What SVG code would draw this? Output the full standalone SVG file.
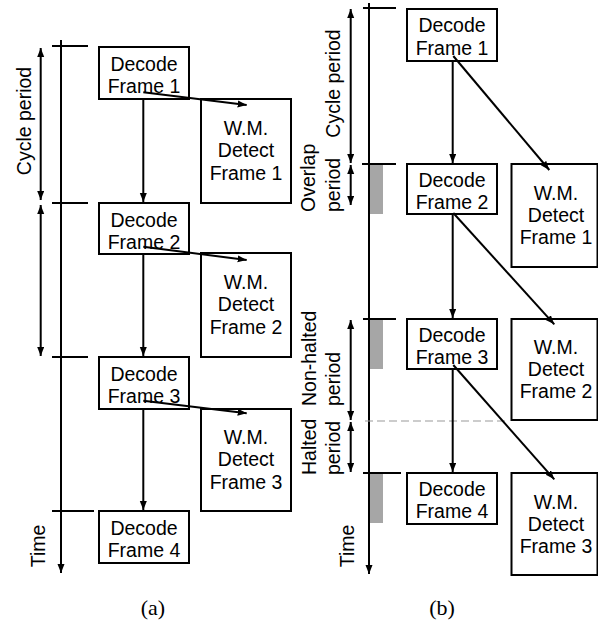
<svg xmlns="http://www.w3.org/2000/svg" width="598" height="625" viewBox="0 0 598 625">
<style>
.box{fill:#fff;stroke:#000;stroke-width:2}
.ln{stroke:#000;stroke-width:2;fill:none}
.t{font-family:"Liberation Sans",Arial,sans-serif;font-size:19.5px;fill:#000}
.c{text-anchor:middle}
.cap{font-family:"Liberation Serif","Times New Roman",serif;font-size:22px;fill:#000;text-anchor:middle}
.gray{fill:#a6a6a6}
</style>
<defs>
<marker id="ah" markerUnits="userSpaceOnUse" markerWidth="10" markerHeight="8" refX="9" refY="3.5" orient="auto-start-reverse" viewBox="0 0 10 8">
<path d="M0,0 L9,3.5 L0,7 z" fill="#000"/>
</marker>
</defs>
<rect width="598" height="625" fill="#fff"/>

<!-- (a) -->
<g id="a-axis">
<line class="ln" x1="61" y1="40" x2="61" y2="573" marker-end="url(#ah)"/>
<line class="ln" x1="52" y1="46" x2="88" y2="46"/>
<line class="ln" x1="52" y1="203" x2="88" y2="203"/>
<line class="ln" x1="52" y1="357" x2="88" y2="357"/>
<line class="ln" x1="52" y1="511" x2="94" y2="511"/>
<text class="t c" transform="translate(45,546) rotate(-90)">Time</text>
</g>
<g id="a-cycle">
<line class="ln" x1="40.7" y1="48" x2="40.7" y2="200" marker-start="url(#ah)" marker-end="url(#ah)"/>
<line class="ln" x1="40.7" y1="205" x2="40.7" y2="356" marker-start="url(#ah)" marker-end="url(#ah)"/>
<text class="t c" transform="translate(30.5,121) rotate(-90)">Cycle period</text>
</g>

<g id="a-dec1"><rect class="box" x="99" y="47" width="90" height="52"/><text class="t c" x="144" y="71">Decode</text><text class="t c" x="144" y="93">Frame 1</text></g>
<g id="a-dec2"><rect class="box" x="99" y="203" width="90" height="51"/><text class="t c" x="144" y="227">Decode</text><text class="t c" x="144" y="249">Frame 2</text></g>
<g id="a-dec3"><rect class="box" x="99" y="357" width="90" height="52"/><text class="t c" x="144" y="381">Decode</text><text class="t c" x="144" y="403">Frame 3</text></g>
<g id="a-dec4"><rect class="box" x="99" y="511" width="90" height="52"/><text class="t c" x="144" y="535">Decode</text><text class="t c" x="144" y="557">Frame 4</text></g>
<g id="a-wm1"><rect class="box" x="201" y="99" width="90" height="104"/><text class="t c" x="246" y="135">W.M.</text><text class="t c" x="246" y="157">Detect</text><text class="t c" x="246" y="180">Frame 1</text></g>
<g id="a-wm2"><rect class="box" x="201" y="253" width="90" height="104"/><text class="t c" x="246" y="289">W.M.</text><text class="t c" x="246" y="311">Detect</text><text class="t c" x="246" y="334">Frame 2</text></g>
<g id="a-wm3"><rect class="box" x="201" y="409" width="90" height="102"/><text class="t c" x="246" y="444">W.M.</text><text class="t c" x="246" y="466">Detect</text><text class="t c" x="246" y="489">Frame 3</text></g>

<!-- (b) -->
<g id="b-axis">
<rect class="gray" x="370" y="164" width="13" height="50"/>
<rect class="gray" x="370" y="319" width="13" height="50"/>
<rect class="gray" x="370" y="473" width="13" height="50"/>
<line class="ln" x1="369" y1="3" x2="369" y2="574" marker-end="url(#ah)"/>
<line class="ln" x1="363" y1="8" x2="396" y2="8"/>
<line class="ln" x1="362" y1="164" x2="396" y2="164"/>
<line class="ln" x1="363" y1="319" x2="396" y2="319"/>
<line class="ln" x1="363" y1="473" x2="401" y2="473"/>
<line x1="365" y1="421" x2="508" y2="421" stroke="#999" stroke-width="1" stroke-dasharray="8,4"/>
<text class="t c" transform="translate(354,546) rotate(-90)">Time</text>
</g>
<g id="b-periods">
<line class="ln" x1="350.7" y1="9" x2="350.7" y2="163" marker-start="url(#ah)" marker-end="url(#ah)"/>
<line class="ln" x1="350.7" y1="165" x2="350.7" y2="205" marker-start="url(#ah)" marker-end="url(#ah)"/>
<line class="ln" x1="350.7" y1="320" x2="350.7" y2="420" marker-start="url(#ah)" marker-end="url(#ah)"/>
<line class="ln" x1="350.7" y1="422" x2="350.7" y2="472" marker-start="url(#ah)" marker-end="url(#ah)"/>
<text class="t c" transform="translate(340,83.5) rotate(-90)">Cycle period</text>
<text class="t" transform="translate(315,212) rotate(-90)">Overlap</text>
<text class="t" transform="translate(340,212) rotate(-90)">period</text>
<text class="t" transform="translate(316,406) rotate(-90)">Non-halted</text>
<text class="t" transform="translate(340,406) rotate(-90)">period</text>
<text class="t" transform="translate(316,475) rotate(-90)">Halted</text>
<text class="t" transform="translate(340,475) rotate(-90)">period</text>
</g>

<g id="b-dec1"><rect class="box" x="407" y="9" width="90" height="52"/><text class="t c" x="452" y="32">Decode</text><text class="t c" x="452" y="55">Frame 1</text></g>
<g id="b-dec2"><rect class="box" x="407" y="164" width="90" height="50"/><text class="t c" x="452" y="187">Decode</text><text class="t c" x="452" y="209">Frame 2</text></g>
<g id="b-dec3"><rect class="box" x="407" y="319" width="90" height="50"/><text class="t c" x="452" y="342">Decode</text><text class="t c" x="452" y="364">Frame 3</text></g>
<g id="b-dec4"><rect class="box" x="407" y="473" width="90" height="51"/><text class="t c" x="452" y="496">Decode</text><text class="t c" x="452" y="518">Frame 4</text></g>
<g id="b-wm1"><rect class="box" x="511.5" y="164" width="86" height="103"/><text class="t c" x="556" y="200">W.M.</text><text class="t c" x="556" y="222">Detect</text><text class="t c" x="556" y="244">Frame 1</text></g>
<g id="b-wm2"><rect class="box" x="511.5" y="319" width="86" height="101"/><text class="t c" x="556" y="354">W.M.</text><text class="t c" x="556" y="376">Detect</text><text class="t c" x="556" y="398">Frame 2</text></g>
<g id="b-wm3"><rect class="box" x="511.5" y="473" width="86" height="102"/><text class="t c" x="556" y="509">W.M.</text><text class="t c" x="556" y="531">Detect</text><text class="t c" x="556" y="553">Frame 3</text></g>

<g id="connectors">
<line class="ln" x1="143.3" y1="99" x2="143.3" y2="202" marker-end="url(#ah)"/>
<line class="ln" x1="143.3" y1="254" x2="143.3" y2="356" marker-end="url(#ah)"/>
<line class="ln" x1="143.3" y1="409" x2="143.3" y2="510" marker-end="url(#ah)"/>
<line class="ln" x1="143.3" y1="92.3" x2="246.7" y2="105" marker-end="url(#ah)"/>
<line class="ln" x1="143.3" y1="246.7" x2="246.7" y2="260" marker-end="url(#ah)"/>
<line class="ln" x1="143.3" y1="400.7" x2="246.7" y2="413.3" marker-end="url(#ah)"/>
<line class="ln" x1="452.7" y1="61" x2="452.7" y2="163" marker-end="url(#ah)"/>
<line class="ln" x1="452.7" y1="214" x2="452.7" y2="318" marker-end="url(#ah)"/>
<line class="ln" x1="452.7" y1="369" x2="452.7" y2="472" marker-end="url(#ah)"/>
<line class="ln" x1="453.3" y1="56" x2="549.3" y2="170" marker-end="url(#ah)"/>
<line class="ln" x1="453.3" y1="213" x2="554.3" y2="324.3" marker-end="url(#ah)"/>
<line class="ln" x1="453.3" y1="365" x2="554.3" y2="479.3" marker-end="url(#ah)"/>
</g>

<text class="cap" x="153" y="615">(a)</text>
<text class="cap" x="442" y="615">(b)</text>
</svg>
